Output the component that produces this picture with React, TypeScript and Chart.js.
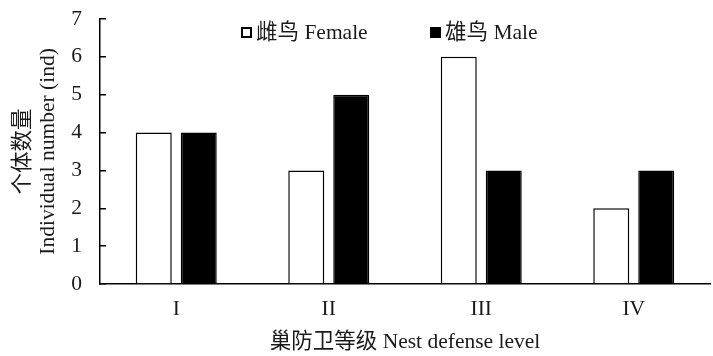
import React, { useEffect, useRef } from "react";
import { Chart, registerables } from "chart.js";

Chart.register(...registerables);

const categories = ["I", "II", "III", "IV"];
const femaleValues = [4, 3, 6, 2];
const maleValues = [4, 5, 3, 3];
const seriesLabels = ["雌鸟 Female", "雄鸟 Male"];
const yTitle = ["个体数量", "Individual number (ind)"];
const xTitle = "巢防卫等级 Nest defense level";

const FONT = "'Liberation Serif', 'Times New Roman', 'Noto Sans CJK SC', serif";
const INK = "#1a1a1a";
const FS = 21.5;
const SHIFT = 18;

const legendPlugin = {
  id: "inlineLegend",
  afterDraw(chart: any) {
    const ctx = chart.ctx;
    const items = [
      { x: 241, label: seriesLabels[0], fill: "#ffffff" },
      { x: 430, label: seriesLabels[1], fill: "#000000" },
    ];
    ctx.save();
    ctx.font = `${FS}px ${FONT}`;
    ctx.textBaseline = "middle";
    ctx.textAlign = "left";
    for (const it of items) {
      ctx.fillStyle = it.fill;
      ctx.fillRect(it.x, 27 + SHIFT, 11, 11);
      ctx.strokeStyle = "#000";
      ctx.lineWidth = 2;
      ctx.strokeRect(it.x + 1, 28 + SHIFT, 9, 9);
      ctx.fillStyle = INK;
      ctx.fillText(it.label, it.x + 15, 33 + SHIFT);
    }
    ctx.restore();
  },
};

export default function App() {
  const ref = useRef<HTMLCanvasElement>(null);
  useEffect(() => {
    if (!ref.current) return;
    const chart = new Chart(ref.current, {
      type: "bar",
      data: {
        labels: categories,
        datasets: [
          {
            label: seriesLabels[0],
            data: femaleValues,
            backgroundColor: "#ffffff",
            borderColor: "#000000",
            borderWidth: 1.5,
            categoryPercentage: 0.59,
            barPercentage: 0.8,
          },
          {
            label: seriesLabels[1],
            data: maleValues,
            backgroundColor: "#000000",
            borderColor: "#000000",
            borderWidth: 1.5,
            categoryPercentage: 0.59,
            barPercentage: 0.8,
          },
        ],
      },
      options: {
        responsive: false,
        animation: false,
        layout: { padding: { top: 0, right: 3, left: 0, bottom: 0 } },
        plugins: { legend: { display: false }, tooltip: { enabled: false } },
        scales: {
          x: {
            grid: { display: false, drawTicks: false },
            border: { display: true, color: "#000", width: 1.5 },
            ticks: { color: INK, font: { family: FONT, size: FS }, padding: 12 },
            title: {
              display: true,
              text: xTitle,
              color: INK,
              font: { family: FONT, size: FS },
              padding: { top: 0, bottom: 1 },
            },
            afterFit(scale: any) {
              scale.height = 72;
            },
          },
          y: {
            min: 0,
            max: 7,
            ticks: { stepSize: 1, color: INK, font: { family: FONT, size: FS }, padding: 24 },
            grid: { drawOnChartArea: false, drawTicks: true, tickLength: -6, color: "#000", lineWidth: 1.5 },
            border: { display: true, color: "#000", width: 1.5 },
            title: {
              display: true,
              text: yTitle,
              color: INK,
              font: { family: FONT, size: FS },
              padding: { top: 10, bottom: 0 },
            },
            afterFit(scale: any) {
              scale.width = 100;
            },
          },
        },
      },
      plugins: [legendPlugin],
    } as any);
    return () => chart.destroy();
  }, []);
  return (
    <div style={{ position: "fixed", left: 0, top: 0, width: 713, height: 356, overflow: "hidden", background: "#fff" }}>
      <canvas
        ref={ref}
        width={713}
        height={356 + SHIFT}
        style={{ display: "block", position: "absolute", left: 0, top: -SHIFT }}
      />
    </div>
  );
}
